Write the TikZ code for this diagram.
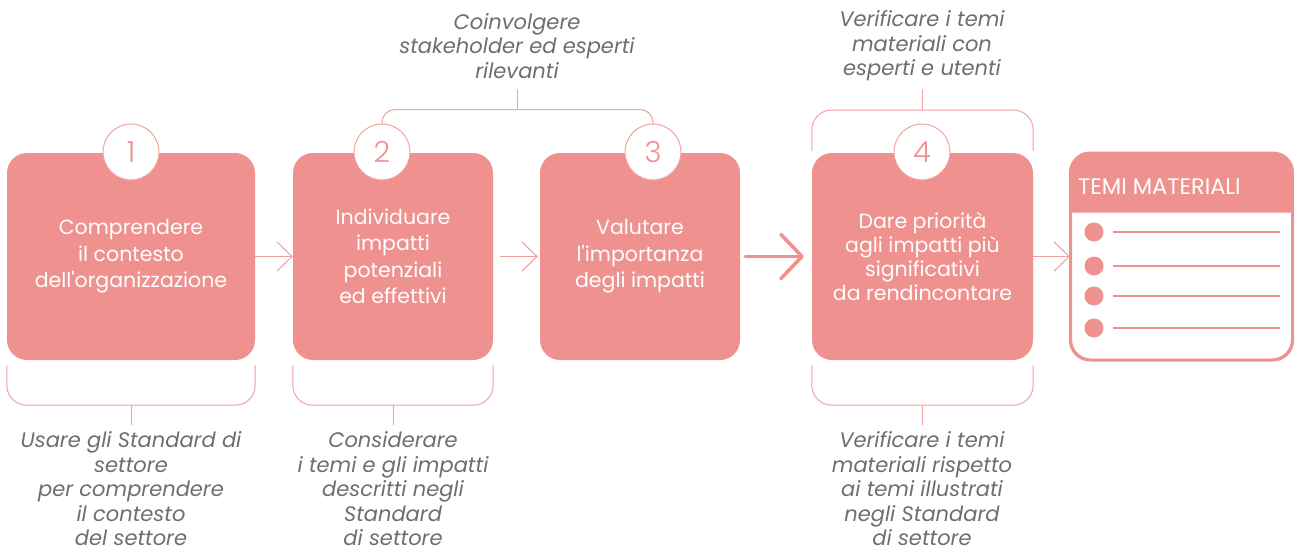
\documentclass[tikz,border=0pt]{standalone}
\usepackage{fontspec}
\setmainfont{Poppins}[Ligatures=TeXOff]
\newfontfamily\numfont{Poppins}[UprightFont=* Light]
\usepackage{tikz}
\usetikzlibrary{arrows.meta,positioning,calc}
\definecolor{boxpink}{HTML}{EF918E}
\definecolor{linepink}{HTML}{F0A29F}
\definecolor{notegray}{HTML}{6E6E6E}
\tikzset{
  stepbox/.style={
    rectangle, rounded corners=20pt, fill=boxpink, draw=none,
    minimum height=207pt, align=center, text=white,
    font=\fontsize{20.5}{26.5}\selectfont
  },
  stepnum/.style={
    circle, draw=linepink, fill=white, line width=1pt,
    minimum size=56pt, inner sep=0pt, text=boxpink,
    font=\numfont\fontsize{29}{29}\selectfont
  },
  listbox/.style={
    rectangle, rounded corners=20pt, draw=boxpink, fill=white, line width=2pt,
    minimum width=221pt, minimum height=206pt
  },
  listdot/.style={circle, fill=boxpink, minimum size=19pt, inner sep=0pt},
  listline/.style={draw=boxpink, line width=2pt},
  flowedge/.style={-{Straight Barb[length=15pt,width=29pt]},draw=linepink,line width=1.1pt},
  flowedgebig/.style={-{Straight Barb[length=21pt,width=44pt,round]},draw=boxpink,line width=3.6pt,line cap=round},
  bracket/.style={draw=linepink,line width=1pt,rounded corners=20pt},
  stepnote/.style={align=center,text=notegray,inner sep=0pt,
    font=\itshape\fontsize{21}{24.5}\selectfont}
}
\begin{document}
\begin{tikzpicture}[x=1pt,y=1pt]
  \useasboundingbox (0,0) rectangle (1294,-551);
  % steps
  \node[stepbox,minimum width=248pt] (box1) at (131,-256.5) {Comprendere\\il contesto\\dell'organizzazione};
  \node[stepbox,minimum width=200pt] (box2) at (393,-256.5) {Individuare\\impatti\\potenziali\\ed effettivi};
  \node[stepbox,minimum width=200pt] (box3) at (640,-256.5) {Valutare\\l'importanza\\degli impatti};
  \node[stepbox,minimum width=221pt,font=\fontsize{20.5}{24}\selectfont] (box4) at (922.5,-256.5) {Dare priorità\\agli impatti più\\significativi\\da rendincontare};
  \node[stepnum] (n1) at (131,-152) {1};
  \node[stepnum] (n2) at (382,-152) {2};
  \node[stepnum] (n3) at (653,-152) {3};
  \node[stepnum] (n4) at (922,-152) {4};
  % result list
  \node[listbox] (temi) at (1181.5,-256.5) {};
  \fill[boxpink] ([yshift=-60pt]temi.north west) {[rounded corners=20pt] -- (temi.north west) -- (temi.north east)} -- ([yshift=-60pt]temi.north east) -- cycle;
  \draw[boxpink,line width=2pt,rounded corners=20pt] (temi.north west) rectangle (temi.south east);
  \node[anchor=west,text=white,font=\fontsize{22.5}{24}\selectfont,inner sep=0pt] (temititle) at (1078,-187) {TEMI MATERIALI};
  \foreach \i/\y in {1/-232,2/-266,3/-296,4/-328}{
    \node[listdot] (dot\i) at (1094,\y) {};
    \draw[listline] ([xshift=9pt]dot\i.east) -- ++(167,0);
  }
  % arrows
  \draw[flowedge] (box1) -- (box2);
  \draw[flowedge,shorten <=7pt,shorten >=2pt] (box2) -- (box3);
  \draw[flowedgebig,shorten <=5pt,shorten >=8pt] (box3) -- (box4);
  \draw[flowedge] (box4) -- (temi);
  % notes
  \node[stepnote] (note23) at (517,-46) {Coinvolgere\\stakeholder ed esperti\\rilevanti};
  \node[stepnote] (note4a) at (922,-46) {Verificare i temi\\materiali con\\esperti e utenti};
  \node[stepnote] (note1) at (131,-489) {Usare gli Standard di\\settore\\per comprendere\\il contesto\\del settore};
  \node[stepnote] (note2) at (393,-489) {Considerare\\i temi e gli impatti\\descritti negli\\Standard\\di settore};
  \node[stepnote] (note4b) at (922,-489) {Verificare i temi\\materiali rispetto\\ai temi illustrati\\negli Standard\\di settore};
  % brackets
  \coordinate (top23) at (517,-110);
  \coordinate (top4) at (922,-110);
  \draw[bracket,rounded corners=13pt] (n2.north) -- ++(0,14) -| (n3.north);
  \draw[bracket] (top23) -- ++(0,21);
  \draw[bracket] ([yshift=2pt]box4.north west) |- (top4) -| ([yshift=2pt]box4.north east);
  \draw[bracket] (top4) -- ++(0,21);
  \foreach \b in {1,2,4}{
    \draw[bracket] ([yshift=-5pt]box\b.south west) |- ([yshift=-45pt]box\b.south) -| ([yshift=-5pt]box\b.south east);
    \draw[bracket] ([yshift=-45pt]box\b.south) -- ++(0,-20);
  }
\end{tikzpicture}
\end{document}
